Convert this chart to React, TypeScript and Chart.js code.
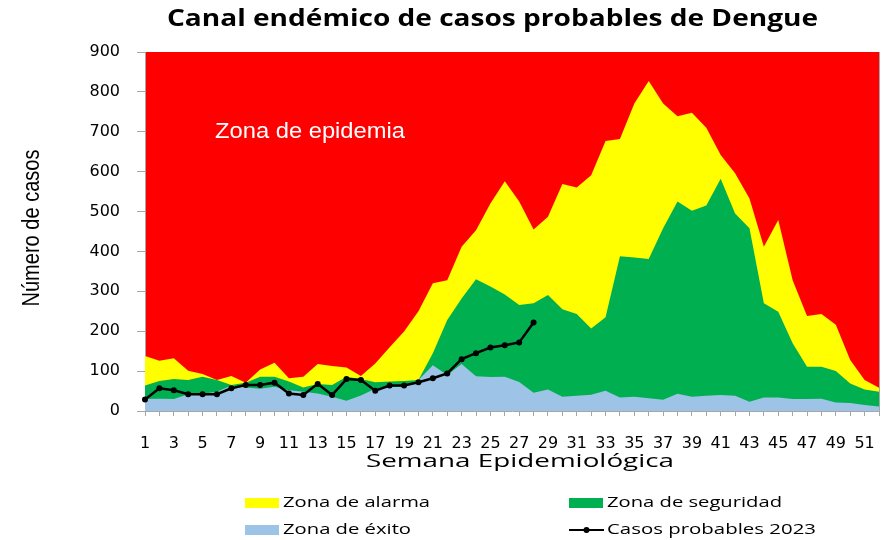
import React, { useEffect, useRef } from "react";
import { Chart, registerables } from "chart.js";

Chart.register(...registerables);

const WEEKS = [
  "1", "2", "3", "4", "5", "6", "7", "8", "9", "10", "11", "12", "13",
  "14", "15", "16", "17", "18", "19", "20", "21", "22", "23", "24", "25", "26",
  "27", "28", "29", "30", "31", "32", "33", "34", "35", "36", "37", "38", "39",
  "40", "41", "42", "43", "44", "45", "46", "47", "48", "49", "50", "51", "52",
];

// Upper limit of each zone (cases), week 1..52
const ZONA_ALARMA = [
  138, 126, 132, 101, 93, 78, 88, 71, 104, 121, 82, 86, 118,
  113, 109, 88, 119, 160, 199, 250, 320, 328, 412, 453, 520, 576,
  525, 455, 487, 569, 560, 591, 677, 682, 771, 827, 771, 739, 748,
  710, 642, 596, 533, 412, 479, 328, 238, 243, 216, 128, 78, 58,
];

const ZONA_SEGURIDAD = [
  64, 75, 80, 78, 86, 78, 65, 71, 86, 86, 74, 59, 68,
  65, 86, 80, 72, 74, 75, 78, 145, 228, 282, 330, 312, 292,
  266, 270, 291, 255, 243, 207, 235, 388, 385, 381, 458, 525, 502,
  515, 582, 495, 458, 270, 249, 170, 111, 111, 100, 69, 54, 48,
];

const ZONA_EXITO = [
  30, 31, 30, 42, 43, 48, 64, 59, 56, 61, 52, 48, 44,
  36, 26, 39, 56, 60, 61, 78, 115, 90, 118, 87, 85, 86,
  73, 46, 54, 36, 38, 41, 51, 34, 36, 32, 28, 43, 36,
  38, 40, 38, 23, 34, 34, 30, 30, 31, 21, 20, 15, 11,
];

const CASOS_2023 = [
  29, 57, 52, 42, 42, 42, 57, 65, 65, 71, 44, 40, 68,
  40, 80, 78, 51, 64, 64, 72, 82, 94, 130, 145, 159, 165,
  172, 222,
];

const Y_TICKS_MAX = 900;
const Y_TICKS_STEP = 100;

const TITLE = "Canal endémico de casos probables de Dengue";
const Y_TITLE = "Número de casos";
const X_TITLE = "Semana Epidemiológica";
const ZONE_LABEL = "Zona de epidemia";
const LEGEND_ITEMS = [
  { label: "Zona de alarma", color: "#FFFF00", kind: "box" },
  { label: "Zona de seguridad", color: "#00B050", kind: "box" },
  { label: "Zona de éxito", color: "#9DC3E6", kind: "box" },
  { label: "Casos probables 2023", color: "#000000", kind: "line" },
];

function fitText(
  ctx: CanvasRenderingContext2D,
  text: string,
  left: number,
  y: number,
  width: number,
  font: string,
  color: string
) {
  ctx.save();
  ctx.font = font;
  ctx.fillStyle = color;
  ctx.textAlign = "left";
  ctx.textBaseline = "middle";
  const m = ctx.measureText(text).width;
  ctx.translate(left, y);
  ctx.scale(width / m, 1);
  ctx.fillText(text, 0, 0);
  ctx.restore();
}

const backgroundPlugin = {
  id: "zoneBackground",
  beforeDraw(chart: any) {
    const { ctx, chartArea: a } = chart;
    ctx.save();
    ctx.fillStyle = "#FFFFFF";
    ctx.fillRect(0, 0, chart.width, chart.height);
    ctx.fillStyle = "#FF0000";
    ctx.fillRect(a.left, a.top, a.right - a.left, a.bottom - a.top);
    ctx.restore();
  },
};

const textPlugin = {
  id: "chartTexts",
  afterDraw(chart: any) {
    const { ctx, chartArea: a } = chart;
    ctx.save();
    ctx.strokeStyle = "#A6A6A6";
    ctx.lineWidth = 1;
    ctx.beginPath();
    ctx.moveTo(a.right + 0.5, a.top);
    ctx.lineTo(a.right + 0.5, a.bottom);
    ctx.stroke();
    ctx.restore();

    fitText(ctx, TITLE, 167, 19, 651, "bold 23px 'Open Sans'", "#000");
    fitText(ctx, ZONE_LABEL, 215, 132, 190, "22px 'Liberation Sans'", "#FFFFFF");
    fitText(ctx, X_TITLE, 366, 462, 308, "19px 'Open Sans'", "#000");
    ctx.save();
    ctx.translate(33, 228);
    ctx.rotate(-Math.PI / 2);
    fitText(ctx, Y_TITLE, -78.5, 0, 157, "23px 'Liberation Sans'", "#000");
    ctx.restore();

    const pos = [
      { bx: 245, tx: 283, y: 503, w: 147 },
      { bx: 569, tx: 607, y: 503, w: 175 },
      { bx: 245, tx: 283, y: 530, w: 128 },
      { bx: 569, tx: 607, y: 530, w: 209 },
    ];
    LEGEND_ITEMS.forEach((it, i) => {
      const p = pos[i];
      ctx.save();
      if (it.kind === "box") {
        ctx.fillStyle = it.color;
        ctx.fillRect(p.bx, p.y - 5, 34, 10);
      } else {
        ctx.strokeStyle = it.color;
        ctx.lineWidth = 2;
        ctx.beginPath();
        ctx.moveTo(p.bx, p.y);
        ctx.lineTo(p.bx + 35, p.y);
        ctx.stroke();
        ctx.fillStyle = it.color;
        ctx.beginPath();
        ctx.arc(p.bx + 17.5, p.y, 3, 0, Math.PI * 2);
        ctx.fill();
      }
      ctx.restore();
      fitText(ctx, it.label, p.tx, p.y, p.w, "15px 'Open Sans'", "#000");
    });
  },
};

export default function App() {
  const canvasRef = useRef<HTMLCanvasElement | null>(null);

  useEffect(() => {
    const canvas = canvasRef.current;
    if (!canvas) return;
    const chart = new Chart(canvas, {
      type: "line",
      data: {
        labels: WEEKS,
        datasets: [
          {
            label: "Casos probables 2023",
            data: CASOS_2023,
            borderColor: "#000000",
            backgroundColor: "#000000",
            borderWidth: 2.5,
            pointRadius: 3,
            pointBackgroundColor: "#000000",
            pointBorderWidth: 0,
            fill: false,
            order: 0,
          },
          {
            label: "Zona de éxito",
            data: ZONA_EXITO,
            borderWidth: 0,
            borderColor: "rgba(0,0,0,0)",
            backgroundColor: "#9DC3E6",
            pointRadius: 0,
            fill: "origin",
            order: 1,
          },
          {
            label: "Zona de seguridad",
            data: ZONA_SEGURIDAD,
            borderWidth: 0,
            borderColor: "rgba(0,0,0,0)",
            backgroundColor: "#00B050",
            pointRadius: 0,
            fill: "origin",
            order: 2,
          },
          {
            label: "Zona de alarma",
            data: ZONA_ALARMA,
            borderWidth: 0,
            borderColor: "rgba(0,0,0,0)",
            backgroundColor: "#FFFF00",
            pointRadius: 0,
            fill: "origin",
            order: 3,
          },
        ],
      },
      options: {
        animation: false,
        responsive: false,
        events: [],
        layout: { padding: { left: 0, top: 52, right: 13, bottom: 89 } },
        elements: { line: { tension: 0 } },
        plugins: {
          legend: { display: false },
          title: { display: false },
          tooltip: { enabled: false },
        },
        scales: {
          x: {
            type: "category",
            offset: false,
            grid: {
              display: true,
              drawOnChartArea: false,
              drawTicks: true,
              tickLength: 5,
              color: "#A6A6A6",
            },
            border: { display: true, color: "#A6A6A6", width: 1 },
            ticks: {
              autoSkip: false,
              maxRotation: 0,
              minRotation: 0,
              padding: 18,
              color: "#000000",
              font: { family: "'DejaVu Sans'", size: 16 },
              callback: (_v: any, i: number) => (i % 2 === 0 ? WEEKS[i] : ""),
            },
            afterFit: (s: any) => {
              s.height = 40;
              s.paddingLeft = 0;
              s.paddingRight = 0;
            },
          },
          y: {
            min: 0,
            max: Y_TICKS_MAX,
            grid: {
              display: true,
              drawOnChartArea: false,
              drawTicks: true,
              tickLength: 8,
              color: "#A6A6A6",
            },
            border: { display: true, color: "#A6A6A6", width: 1 },
            ticks: {
              stepSize: Y_TICKS_STEP,
              padding: 17,
              color: "#000000",
              font: { family: "'DejaVu Sans'", size: 16 },
            },
            afterFit: (s: any) => {
              s.width = 145;
            },
          },
        },
      },
      plugins: [backgroundPlugin, textPlugin],
    });
    return () => chart.destroy();
  }, []);

  return (
    <div style={{ position: "absolute", left: 0, top: 0, width: 892, height: 540 }}>
      <canvas ref={canvasRef} width={892} height={540} />
    </div>
  );
}
